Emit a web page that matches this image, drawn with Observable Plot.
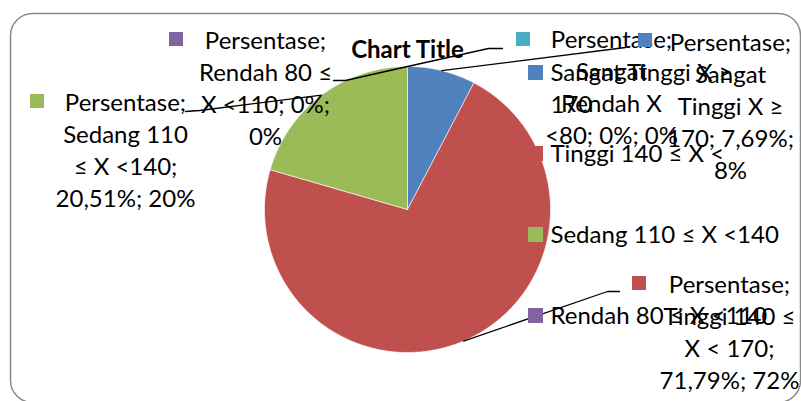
<!DOCTYPE html>
<html><head><meta charset="utf-8">
<script src="https://cdn.jsdelivr.net/npm/d3@7"></script>
<script src="https://cdn.jsdelivr.net/npm/@observablehq/plot@0.6"></script>
<style>body{margin:0;background:#fff}</style>
</head><body><div id="chart"></div>
<script>
// ---- data ----
const categories = ["Sangat Tinggi X ≥ 170", "Tinggi 140 ≤ X < 170", "Sedang 110 ≤ X <140", "Rendah 80 ≤ X <110", "Sangat Rendah X <80"];
const percentages = [7.69, 71.79, 20.51, 0, 0];
const percentLabels = ["7,69%", "71,79%", "20,51%", "0%", "0%"];
const roundedLabels = ["8%", "72%", "20%", "0%", "0%"];
const seriesName = "Persentase";
const chartTitle = "Chart Title";
const colors = ["#4F81BD", "#C0504D", "#9BBB59", "#8064A2", "#4BACC6"];
const legendCategories = categories.slice(0, 4);

// ---- layout (Excel's overlapping placement) ----
const cx = 407, cy = 209, R = 143;
const FS = 24, LH = 32, MK = 14;
const labelLayout = [
  {mx: 638, my: 33, tx: 730, base: 50, words: [1,1,3,2,1], end: [[625,47]]},
  {mx: 632, my: 276, tx: 729, base: 292, words: [1,3,3,2], end: [[607,291],[619,291]]},
  {mx: 30, my: 94, tx: 125, base: 110, words: [1,2,3,2], end: [[199,110],[185,111]]},
  {mx: 169, my: 32, tx: 265, base: 48, words: [1,3,3,1], end: [[345,80],[333,80]]},
  {mx: 516, my: 32, tx: 611, base: 47, words: [1,1,2,3], end: [[488,48],[502,48]]}
];
const legendLayout = {mx: 528, tx: 550, base: 80, step: 81, words: [[4,1],[5],[5],[5]]};

// ---- geometry from values ----
const pie = d3.pie().sort(null).value(d => d)(percentages);
const polar = (a, r) => [cx + r * Math.sin(a), cy - r * Math.cos(a)];
const slices = [];
pie.forEach((p, i) => {
  const span = p.endAngle - p.startAngle;
  if (span <= 0) return;
  const n = Math.max(2, Math.ceil(span / 0.01));
  slices.push({x: cx, y: cy, cat: categories[i]});
  for (let k = 0; k <= n; k++) {
    const [x, y] = polar(p.startAngle + span * k / n, R);
    slices.push({x, y, cat: categories[i]});
  }
  slices.push({x: cx, y: cy, cat: categories[i]});
});

function wrap(str, counts) {
  const w = str.split(" ");
  const out = []; let k = 0;
  for (const c of counts) { out.push(w.slice(k, k + c).join(" ")); k += c; }
  return out;
}

const labelLines = [], markers = [], leaders = [];
categories.forEach((c, i) => {
  const L = labelLayout[i];
  const full = `${seriesName}; ${c}; ${percentLabels[i]}; ${roundedLabels[i]}`;
  wrap(full, L.words).forEach((t, j) => labelLines.push({x: L.tx, y: L.base + j * LH, text: t}));
  markers.push({x1: L.mx, x2: L.mx + MK, y1: L.my, y2: L.my + MK, cat: c});
  const mid = (pie[i].startAngle + pie[i].endAngle) / 2;
  const [px, py] = polar(mid, R);
  leaders.push({x: px, y: py, id: i});
  L.end.forEach(([x, y]) => leaders.push({x, y, id: i}));
});

const legendLines = [];
legendCategories.forEach((c, i) => {
  const y0 = legendLayout.base + i * legendLayout.step;
  markers.push({x1: legendLayout.mx, x2: legendLayout.mx + 15, y1: y0 - 15, y2: y0, cat: c});
  wrap(c, legendLayout.words[i]).forEach((t, j) => legendLines.push({x: legendLayout.tx, y: y0 + j * LH, text: t}));
});

const font = "Lato, 'Open Sans', sans-serif";
const chart = Plot.plot({
  width: 801, height: 401, margin: 0,
  x: {type: "identity"}, y: {type: "identity"},
  color: {domain: categories, range: colors},
  style: {background: "#fff", overflow: "visible"},
  marks: [
    Plot.frame({stroke: "#8a8a8a", strokeWidth: 1.5, rx: 22, insetLeft: 10, insetTop: 13, insetRight: 1, insetBottom: -1}),
    Plot.line(slices, {x: "x", y: "y", z: "cat", fill: "cat", stroke: "#fff", strokeWidth: 0.6, curve: "linear"}),
    Plot.line(leaders, {x: "x", y: "y", z: "id", stroke: "#000", strokeWidth: 1.3}),
    Plot.text(labelLines, {x: "x", y: "y", text: "text", textAnchor: "middle", lineAnchor: "bottom", fontSize: FS, fontFamily: font, fill: "#000"}),
    Plot.text(legendLines, {x: "x", y: "y", text: "text", textAnchor: "start", lineAnchor: "bottom", fontSize: FS, fontFamily: font, fill: "#000"}),
    Plot.rect(markers, {x1: "x1", x2: "x2", y1: "y1", y2: "y2", fill: "cat"}),
    Plot.text([chartTitle], {x: () => cx, y: () => 57, text: d => d, textAnchor: "middle", lineAnchor: "bottom", fontSize: 24, fontWeight: "bold", fontFamily: font, fill: "#000"})
  ]
});
document.getElementById("chart").appendChild(chart);
</script>
</body></html>
